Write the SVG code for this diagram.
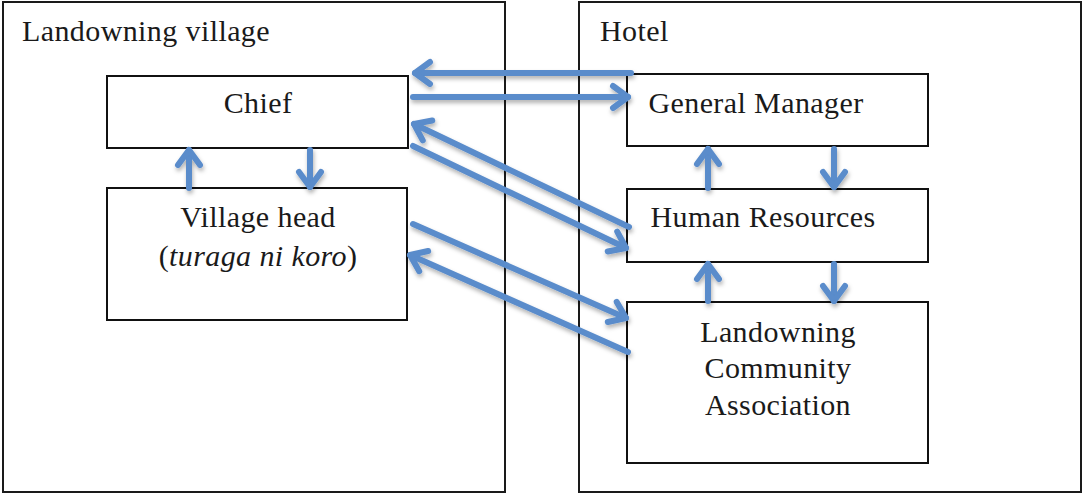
<svg xmlns="http://www.w3.org/2000/svg" width="1083" height="494" viewBox="0 0 1083 494">
  <style>
    .frame { fill: #ffffff; stroke: #1a1a1a; stroke-width: 2; }
    .box { fill: #ffffff; stroke: #111111; stroke-width: 2; }
    .label { font-family: "Liberation Serif", "DejaVu Serif", serif; font-size: 30px; letter-spacing: 0.4px; fill: #1a1a1a; }
    .mid { text-anchor: middle; }
    .arrow { fill: none; stroke: #5a8ccb; stroke-width: 6; stroke-linecap: round; marker-end: url(#chevron); }
  </style>
  <defs>
    <marker id="chevron" markerUnits="userSpaceOnUse" viewBox="-20 -14 24 28" refX="0" refY="0" markerWidth="24" markerHeight="28" orient="auto" overflow="visible">
      <path d="M -15 -11 L 0 0 L -15 11" fill="none" stroke="#5a8ccb" stroke-width="6" stroke-linecap="round" stroke-linejoin="round"/>
    </marker>
    <filter id="shade" filterUnits="userSpaceOnUse" x="0" y="0" width="1083" height="494">
      <feDropShadow dx="1" dy="3" stdDeviation="2.2" flood-color="#000000" flood-opacity="0.3"/>
    </filter>
  </defs>

  <!-- outer frames -->
  <g id="landowning-village">
    <rect class="frame" x="3" y="2" width="502" height="490"/>
    <text class="label" x="22" y="41">Landowning village</text>
  </g>
  <g id="hotel">
    <rect class="frame" x="579" y="2" width="502" height="490"/>
    <text class="label" x="600" y="41">Hotel</text>
  </g>

  <!-- village side -->
  <g id="chief">
    <rect class="box" x="107" y="76" width="301" height="72"/>
    <text class="label mid" x="258" y="113">Chief</text>
  </g>
  <g id="village-head">
    <rect class="box" x="107" y="188" width="300" height="132"/>
    <text class="label mid" x="258" y="227">Village head</text>
    <text class="label mid" x="258" y="266">(<tspan font-style="italic">turaga ni koro</tspan>)</text>
  </g>

  <!-- hotel side -->
  <g id="general-manager">
    <rect class="box" x="627" y="74" width="301" height="72"/>
    <text class="label mid" x="756" y="113">General Manager</text>
  </g>
  <g id="human-resources">
    <rect class="box" x="627" y="189" width="301" height="73"/>
    <text class="label mid" x="763" y="227">Human Resources</text>
  </g>
  <g id="community-association">
    <rect class="box" x="627" y="302" width="301" height="161"/>
    <text class="label mid" x="778" y="342">Landowning</text>
    <text class="label mid" x="778" y="378">Community</text>
    <text class="label mid" x="778" y="415">Association</text>
  </g>

  <!-- connectors -->
  <g id="connectors" filter="url(#shade)">
    <line class="arrow" x1="631" y1="73" x2="415" y2="73"/>
    <line class="arrow" x1="413" y1="97" x2="628" y2="97"/>
    <line class="arrow" x1="629" y1="227" x2="414" y2="124"/>
    <line class="arrow" x1="413" y1="146" x2="626" y2="248"/>
    <line class="arrow" x1="413" y1="224" x2="626" y2="318"/>
    <line class="arrow" x1="628" y1="352" x2="410" y2="255"/>

    <line class="arrow" x1="189" y1="188" x2="189" y2="150"/>
    <line class="arrow" x1="310" y1="150" x2="310" y2="187"/>
    <line class="arrow" x1="708" y1="188" x2="708" y2="149"/>
    <line class="arrow" x1="834" y1="149" x2="834" y2="187"/>
    <line class="arrow" x1="708" y1="301" x2="708" y2="264"/>
    <line class="arrow" x1="834" y1="264" x2="834" y2="301"/>
  </g>
</svg>
